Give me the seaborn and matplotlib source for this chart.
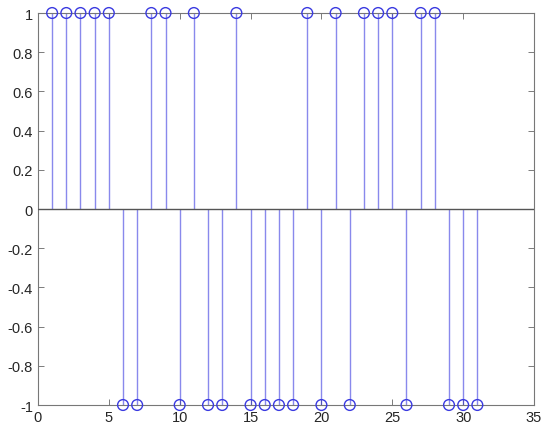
import numpy as np
import pandas as pd
import matplotlib
matplotlib.use("Agg")
import matplotlib.pyplot as plt
import seaborn as sns

n = list(range(1, 32))
signal = [1, 1, 1, 1, 1, -1, -1, 1, 1, -1, 1, -1, -1, 1, -1, -1,
          -1, -1, 1, -1, 1, -1, 1, 1, 1, -1, 1, 1, -1, -1, -1]
x_ticks = [0, 5, 10, 15, 20, 25, 30, 35]
y_ticks = [-1, -0.8, -0.6, -0.4, -0.2, 0, 0.2, 0.4, 0.6, 0.8, 1]

df = pd.DataFrame({'n': n, 'value': signal})

sns.set_style('white')
plt.rcParams['font.family'] = ['Liberation Sans', 'DejaVu Sans']

fig = plt.figure(figsize=(5.5, 4.31), dpi=100)
ax = fig.add_axes([0.069, 0.058, 0.902, 0.9095])

ax.vlines(df['n'], 0, df['value'], color='#3a3ae0', linewidth=1.0, alpha=0.6, zorder=2)
ax.axhline(0, color='#555555', linewidth=1.0, zorder=3)
sns.scatterplot(data=df, x='n', y='value', ax=ax, marker='o', s=60,
                facecolors='none', edgecolor='#3a3ae0', linewidth=1.0,
                legend=False, zorder=4, clip_on=False)

ax.set_xlim(0, 35)
ax.set_ylim(-1, 1)
ax.set_xticks(x_ticks)
ax.set_yticks(y_ticks)
ax.set_xticklabels([str(t) for t in x_ticks])
ax.set_yticklabels(['-1', '-0.8', '-0.6', '-0.4', '-0.2', '0', '0.2', '0.4', '0.6', '0.8', '1'])
ax.set_xlabel('')
ax.set_ylabel('')
ax.tick_params(direction='in', length=4, width=0.6, color='#666666',
               labelsize=10.5, top=True, right=True, left=True, bottom=True)
for s in ax.spines.values():
    s.set_color('#777777')
    s.set_linewidth(0.8)

fig.savefig('out.png', dpi=100)
